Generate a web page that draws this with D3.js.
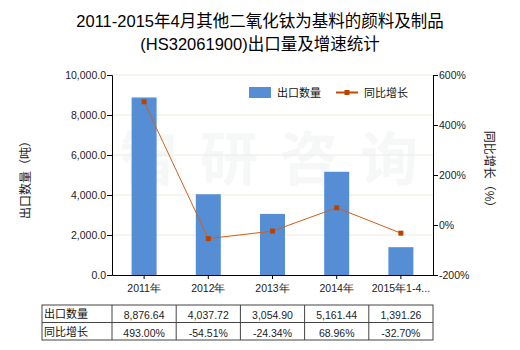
<!DOCTYPE html>
<html><head><meta charset="utf-8">
<script src="https://cdn.jsdelivr.net/npm/d3@7"></script>
<style>
body{margin:0;background:#fff;}
svg{display:block;font-family:"Liberation Sans","Noto Sans CJK SC",sans-serif;}
</style></head>
<body>
<div id="chart"></div>
<script>
const categories = ["2011年","2012年","2013年","2014年","2015年1-4..."];
const exportQty = [8876.64, 4037.72, 3054.90, 5161.44, 1391.26];
const growth = [493.00, -54.51, -24.34, 68.96, -32.70];
const qtyLabels = ["8,876.64","4,037.72","3,054.90","5,161.44","1,391.26"];
const growthLabels = ["493.00%","-54.51%","-24.34%","68.96%","-32.70%"];
const leftTicks = [0,2000,4000,6000,8000,10000];
const rightTicks = [-200,0,200,400,600];
const titleLines = ["2011-2015年4月其他二氧化钛为基料的颜料及制品","(HS32061900)出口量及增速统计"];
const seriesNames = ["出口数量","同比增长"];
const yLeftTitle = "出口数量（吨）";
const yRightTitle = "同比增长（%）";

const W=520,H=350;
const m={l:112,r:433,t:75,b:275};
const svg=d3.select("#chart").append("svg").attr("width",W).attr("height",H);

const xb=d3.scaleBand().domain(categories).range([m.l,m.r]);
const yL=d3.scaleLinear().domain([0,10000]).range([m.b,m.t]);
const yR=d3.scaleLinear().domain([-200,600]).range([m.b,m.t]);

// title
svg.selectAll("text.title").data(titleLines).enter().append("text")
 .attr("x",260).attr("y",(d,i)=>27+i*23).attr("text-anchor","middle")
 .attr("font-size",16.5).attr("fill","#000").text(d=>d);

// gridlines
svg.append("g").selectAll("line").data(leftTicks.filter(d=>d>0)).enter().append("line")
 .attr("x1",m.l).attr("x2",m.r).attr("y1",d=>yL(d)).attr("y2",d=>yL(d))
 .attr("stroke","#ecebdc").attr("stroke-width",1);

// watermark
svg.append("text").attr("x",120).attr("y",180).attr("text-anchor","start")
 .attr("font-size",58).attr("font-weight","bold").attr("fill","#eef0f0").attr("opacity",0.5)
 .attr("letter-spacing",22).text("智研咨询");

// bars
svg.append("g").selectAll("rect").data(exportQty).enter().append("rect")
 .attr("x",(d,i)=>xb(categories[i])+xb.bandwidth()/2-12.5).attr("width",25)
 .attr("y",d=>yL(d)).attr("height",d=>m.b-yL(d)).attr("fill","#568ed6");

// line
const line=d3.line().x((d,i)=>xb(categories[i])+xb.bandwidth()/2).y(d=>yR(d));
svg.append("path").datum(growth).attr("d",line).attr("fill","none")
 .attr("stroke","#d0601a").attr("stroke-width",1);
svg.append("g").selectAll("rect").data(growth).enter().append("rect")
 .attr("x",(d,i)=>xb(categories[i])+xb.bandwidth()/2-2.5).attr("y",d=>yR(d)-2.5)
 .attr("width",5).attr("height",5).attr("fill","#b84400");

// left axis
const gl=svg.append("g").attr("transform",`translate(${m.l},0)`)
 .call(d3.axisLeft(yL).tickValues(leftTicks).tickSize(5).tickFormat(d=>d3.format(",.1f")(d)));
gl.select(".domain").attr("stroke","#000");
gl.selectAll(".tick line").attr("stroke","#000");
gl.selectAll("text").attr("font-size",10.5).attr("fill","#222").attr("x",-6);

// right axis
const gr=svg.append("g").attr("transform",`translate(${m.r},0)`)
 .call(d3.axisRight(yR).tickValues(rightTicks).tickSize(5).tickFormat(d=>d+"%"));
gr.select(".domain").attr("stroke","#000");
gr.selectAll(".tick line").attr("stroke","#000");
gr.selectAll("text").attr("font-size",10.5).attr("fill","#222").attr("x",6);

// bottom axis
const gb=svg.append("g").attr("transform",`translate(0,${m.b})`)
 .call(d3.axisBottom(xb).tickSize(4).tickSizeOuter(0));
gb.select(".domain").attr("stroke","#000");
gb.selectAll(".tick line").attr("stroke","#000");
gb.selectAll("text").attr("font-size",10.5).attr("fill","#222").attr("dy","0.95em");

// axis titles
svg.append("text").attr("transform","translate(30,177) rotate(-90)").attr("text-anchor","middle")
 .attr("font-size",12).attr("fill","#222").text(yLeftTitle);
svg.append("text").attr("transform","translate(485,172) rotate(90)").attr("text-anchor","middle")
 .attr("font-size",12).attr("fill","#222").text(yRightTitle);

// legend
const lg=svg.append("g");
lg.append("rect").attr("x",249).attr("y",87).attr("width",22).attr("height",11).attr("fill","#568ed6");
lg.append("text").attr("x",277).attr("y",97).attr("font-size",11).attr("fill","#111").text(seriesNames[0]);
lg.append("line").attr("x1",336).attr("x2",358).attr("y1",92.5).attr("y2",92.5).attr("stroke","#c04a00").attr("stroke-width",2);
lg.append("rect").attr("x",344.5).attr("y",90).attr("width",5).attr("height",5).attr("fill","#b84400");
lg.append("text").attr("x",364).attr("y",97).attr("font-size",11).attr("fill","#111").text(seriesNames[1]);

// table
const tTop=305, rowH=17.5, tLeft=42;
const tg=svg.append("g");
tg.append("rect").attr("x",tLeft).attr("y",tTop).attr("width",m.r-tLeft).attr("height",rowH*2)
 .attr("fill","none").attr("stroke","#444").attr("stroke-width",1);
tg.append("line").attr("x1",tLeft).attr("x2",m.r).attr("y1",tTop+rowH).attr("y2",tTop+rowH).attr("stroke","#444");
const cols=[m.l].concat(categories.slice(1).map(c=>xb(c)));
tg.selectAll("line.v").data(cols).enter().append("line")
 .attr("x1",d=>d).attr("x2",d=>d).attr("y1",tTop).attr("y2",tTop+rowH*2).attr("stroke","#444");
const rows=[qtyLabels,growthLabels];
rows.forEach((r,ri)=>{
  tg.append("text").attr("x",tLeft+2).attr("y",tTop+rowH*ri+13).attr("font-size",11).attr("fill","#111").text(seriesNames[ri]);
  tg.selectAll(null).data(r).enter().append("text")
   .attr("x",(d,i)=>xb(categories[i])+xb.bandwidth()/2).attr("y",tTop+rowH*ri+14)
   .attr("text-anchor","middle").attr("font-size",10.5).attr("fill","#222").text(d=>d);
});
</script>
</body></html>
